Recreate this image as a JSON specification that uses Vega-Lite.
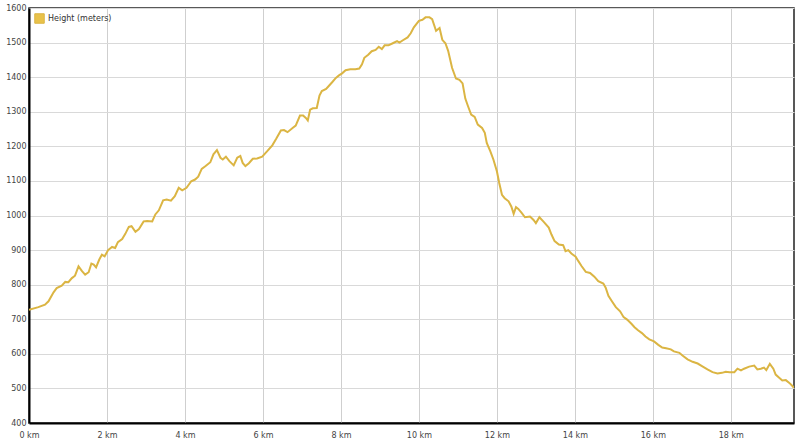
{
  "$schema": "https://vega.github.io/schema/vega-lite/v6.json",
  "autosize": {"type": "none"},
  "width": 765,
  "height": 415,
  "padding": {"left": 29, "top": 8, "right": 6, "bottom": 23},
  "background": "#ffffff",
  "config": {
    "view": {"stroke": "#222222", "strokeWidth": 1.5},
    "axis": {
      "labelFont": "DejaVu Sans",
      "labelFontSize": 8,
      "labelColor": "#444444",
      "gridColor": "#d9d9d9",
      "gridWidth": 1,
      "ticks": false,
      "domainColor": "#000000",
      "domainWidth": 2,
      "title": null
    }
  },
  "data": {
    "values": [
      {"km": 0.0, "m": 727}, {"km": 0.24, "m": 735}, {"km": 0.41, "m": 742}, {"km": 0.5, "m": 752},
      {"km": 0.63, "m": 778}, {"km": 0.71, "m": 790}, {"km": 0.84, "m": 797}, {"km": 0.93, "m": 808},
      {"km": 1.01, "m": 807}, {"km": 1.1, "m": 819}, {"km": 1.18, "m": 826}, {"km": 1.27, "m": 853},
      {"km": 1.36, "m": 839}, {"km": 1.44, "m": 829}, {"km": 1.53, "m": 836}, {"km": 1.6, "m": 861},
      {"km": 1.66, "m": 858}, {"km": 1.72, "m": 850}, {"km": 1.8, "m": 872}, {"km": 1.87, "m": 887},
      {"km": 1.94, "m": 882}, {"km": 2.03, "m": 900}, {"km": 2.13, "m": 909}, {"km": 2.21, "m": 906},
      {"km": 2.28, "m": 923}, {"km": 2.39, "m": 932}, {"km": 2.47, "m": 947}, {"km": 2.56, "m": 967},
      {"km": 2.63, "m": 969}, {"km": 2.73, "m": 953}, {"km": 2.82, "m": 961}, {"km": 2.94, "m": 983},
      {"km": 3.03, "m": 984}, {"km": 3.16, "m": 983}, {"km": 3.24, "m": 1003}, {"km": 3.33, "m": 1015},
      {"km": 3.44, "m": 1044}, {"km": 3.53, "m": 1046}, {"km": 3.64, "m": 1043}, {"km": 3.74, "m": 1056},
      {"km": 3.84, "m": 1080}, {"km": 3.93, "m": 1073}, {"km": 4.04, "m": 1080}, {"km": 4.16, "m": 1099},
      {"km": 4.26, "m": 1104}, {"km": 4.34, "m": 1112}, {"km": 4.43, "m": 1135}, {"km": 4.53, "m": 1143},
      {"km": 4.65, "m": 1154}, {"km": 4.73, "m": 1177}, {"km": 4.82, "m": 1189}, {"km": 4.91, "m": 1167},
      {"km": 4.97, "m": 1162}, {"km": 5.05, "m": 1170}, {"km": 5.14, "m": 1157}, {"km": 5.25, "m": 1145},
      {"km": 5.34, "m": 1167}, {"km": 5.42, "m": 1172}, {"km": 5.48, "m": 1152}, {"km": 5.55, "m": 1143},
      {"km": 5.64, "m": 1151}, {"km": 5.74, "m": 1164}, {"km": 5.85, "m": 1165}, {"km": 5.98, "m": 1170},
      {"km": 6.11, "m": 1186}, {"km": 6.24, "m": 1203}, {"km": 6.34, "m": 1222}, {"km": 6.46, "m": 1246},
      {"km": 6.54, "m": 1247}, {"km": 6.63, "m": 1241}, {"km": 6.76, "m": 1253}, {"km": 6.84, "m": 1260},
      {"km": 6.95, "m": 1289}, {"km": 7.03, "m": 1289}, {"km": 7.1, "m": 1282}, {"km": 7.15, "m": 1275},
      {"km": 7.21, "m": 1306}, {"km": 7.28, "m": 1310}, {"km": 7.38, "m": 1311}, {"km": 7.45, "m": 1347},
      {"km": 7.51, "m": 1360}, {"km": 7.62, "m": 1366}, {"km": 7.7, "m": 1376}, {"km": 7.78, "m": 1386},
      {"km": 7.87, "m": 1398}, {"km": 7.95, "m": 1405}, {"km": 8.03, "m": 1411}, {"km": 8.12, "m": 1420},
      {"km": 8.24, "m": 1423}, {"km": 8.37, "m": 1423}, {"km": 8.47, "m": 1425}, {"km": 8.54, "m": 1437},
      {"km": 8.6, "m": 1456}, {"km": 8.7, "m": 1465}, {"km": 8.79, "m": 1475}, {"km": 8.89, "m": 1479},
      {"km": 8.97, "m": 1488}, {"km": 9.05, "m": 1481}, {"km": 9.12, "m": 1492}, {"km": 9.22, "m": 1492},
      {"km": 9.33, "m": 1498}, {"km": 9.44, "m": 1504}, {"km": 9.5, "m": 1500}, {"km": 9.58, "m": 1506},
      {"km": 9.71, "m": 1515}, {"km": 9.79, "m": 1527}, {"km": 9.87, "m": 1544}, {"km": 10.0, "m": 1563},
      {"km": 10.09, "m": 1566}, {"km": 10.17, "m": 1573}, {"km": 10.27, "m": 1573}, {"km": 10.34, "m": 1568},
      {"km": 10.44, "m": 1534}, {"km": 10.53, "m": 1542}, {"km": 10.6, "m": 1508}, {"km": 10.68, "m": 1498},
      {"km": 10.75, "m": 1476}, {"km": 10.85, "m": 1427}, {"km": 10.95, "m": 1396}, {"km": 11.04, "m": 1392},
      {"km": 11.12, "m": 1382}, {"km": 11.19, "m": 1338}, {"km": 11.26, "m": 1316}, {"km": 11.34, "m": 1292},
      {"km": 11.43, "m": 1285}, {"km": 11.51, "m": 1263}, {"km": 11.62, "m": 1253}, {"km": 11.69, "m": 1239},
      {"km": 11.74, "m": 1210}, {"km": 11.83, "m": 1186}, {"km": 11.91, "m": 1162}, {"km": 12.0, "m": 1128},
      {"km": 12.06, "m": 1094}, {"km": 12.13, "m": 1060}, {"km": 12.2, "m": 1050}, {"km": 12.3, "m": 1041},
      {"km": 12.37, "m": 1026}, {"km": 12.43, "m": 1005}, {"km": 12.49, "m": 1024}, {"km": 12.55, "m": 1019},
      {"km": 12.64, "m": 1007}, {"km": 12.72, "m": 995}, {"km": 12.85, "m": 997}, {"km": 12.94, "m": 987},
      {"km": 13.0, "m": 978}, {"km": 13.09, "m": 995}, {"km": 13.19, "m": 983}, {"km": 13.33, "m": 965},
      {"km": 13.4, "m": 945}, {"km": 13.48, "m": 926}, {"km": 13.59, "m": 916}, {"km": 13.7, "m": 914},
      {"km": 13.76, "m": 897}, {"km": 13.83, "m": 900}, {"km": 13.91, "m": 890}, {"km": 14.02, "m": 881},
      {"km": 14.09, "m": 868}, {"km": 14.17, "m": 854}, {"km": 14.28, "m": 837}, {"km": 14.39, "m": 834},
      {"km": 14.5, "m": 823}, {"km": 14.6, "m": 810}, {"km": 14.73, "m": 803}, {"km": 14.79, "m": 791},
      {"km": 14.86, "m": 768}, {"km": 14.95, "m": 752}, {"km": 15.05, "m": 735}, {"km": 15.16, "m": 723},
      {"km": 15.25, "m": 706}, {"km": 15.34, "m": 699}, {"km": 15.45, "m": 687}, {"km": 15.53, "m": 677},
      {"km": 15.62, "m": 668}, {"km": 15.72, "m": 660}, {"km": 15.81, "m": 650}, {"km": 15.91, "m": 642},
      {"km": 16.03, "m": 636}, {"km": 16.14, "m": 626}, {"km": 16.24, "m": 618}, {"km": 16.34, "m": 616},
      {"km": 16.46, "m": 613}, {"km": 16.54, "m": 607}, {"km": 16.68, "m": 603}, {"km": 16.76, "m": 595},
      {"km": 16.89, "m": 584}, {"km": 17.02, "m": 577}, {"km": 17.15, "m": 572}, {"km": 17.27, "m": 564},
      {"km": 17.4, "m": 555}, {"km": 17.53, "m": 547}, {"km": 17.66, "m": 543}, {"km": 17.77, "m": 545},
      {"km": 17.87, "m": 548}, {"km": 17.97, "m": 547}, {"km": 18.09, "m": 547}, {"km": 18.17, "m": 557},
      {"km": 18.26, "m": 552}, {"km": 18.34, "m": 557}, {"km": 18.47, "m": 563}, {"km": 18.6, "m": 566},
      {"km": 18.68, "m": 555}, {"km": 18.77, "m": 557}, {"km": 18.85, "m": 560}, {"km": 18.91, "m": 553},
      {"km": 19.0, "m": 571}, {"km": 19.09, "m": 557}, {"km": 19.15, "m": 540}, {"km": 19.24, "m": 531},
      {"km": 19.32, "m": 523}, {"km": 19.41, "m": 524}, {"km": 19.5, "m": 516}, {"km": 19.58, "m": 507},
      {"km": 19.62, "m": 502}
    ]
  },
  "mark": {"type": "line", "strokeWidth": 2, "interpolate": "linear", "clip": true},
  "encoding": {
    "x": {
      "field": "km",
      "type": "quantitative",
      "scale": {"domain": [0, 19.62], "nice": false, "zero": false},
      "axis": {
        "values": [0, 2, 4, 6, 8, 10, 12, 14, 16, 18],
        "labelExpr": "datum.value + ' km'",
        "labelPadding": 8,
        "labelFlush": false,
        "gridColor": "#cfcfcf"
      }
    },
    "y": {
      "field": "m",
      "type": "quantitative",
      "scale": {"domain": [400, 1600], "nice": false, "zero": false},
      "axis": {
        "values": [400, 500, 600, 700, 800, 900, 1000, 1100, 1200, 1300, 1400, 1500, 1600],
        "format": "d",
        "labelPadding": 3,
        "labelFlush": false
      }
    },
    "color": {
      "datum": "Height (meters)",
      "type": "nominal",
      "scale": {"range": ["#DBB543"]},
      "legend": {
        "title": null,
        "orient": "none",
        "legendX": 5,
        "legendY": 5,
        "symbolType": "square",
        "symbolSize": 90,
        "labelFont": "DejaVu Sans",
        "labelFontSize": 8,
        "labelColor": "#333333",
        "labelOffset": 3,
        "encode": {
          "symbols": {
            "update": {
              "fill": {"value": "#E9C24A"},
              "stroke": {"value": "#F3DC8E"},
              "strokeWidth": {"value": 1}
            }
          }
        }
      }
    }
  }
}
